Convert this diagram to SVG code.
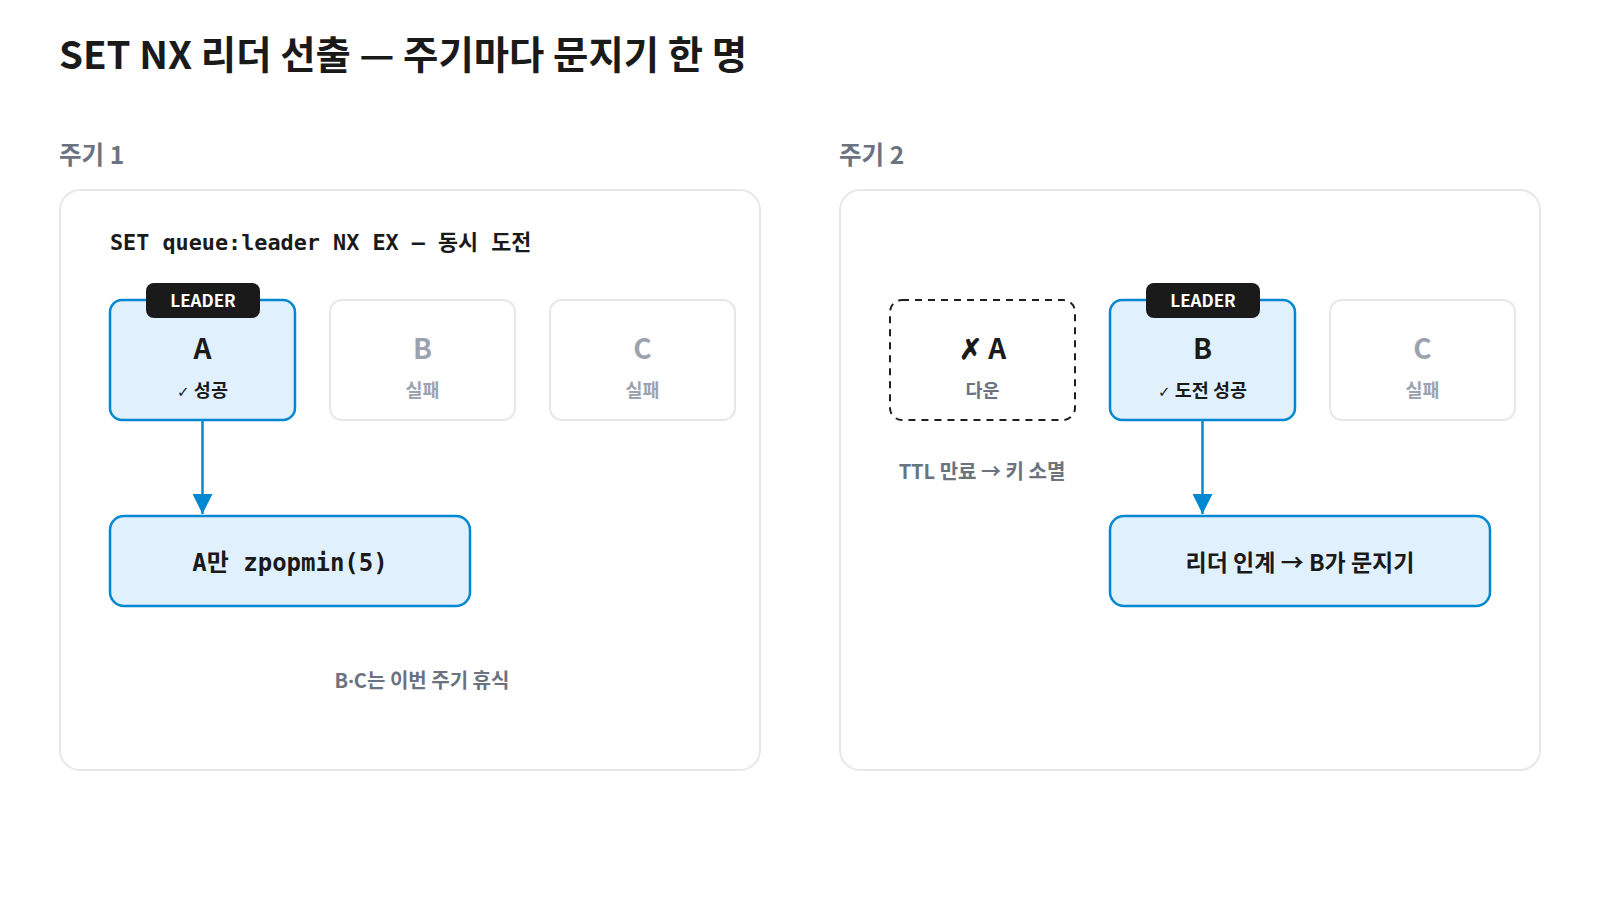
<svg xmlns="http://www.w3.org/2000/svg" width="1600" height="900" viewBox="0 0 1600 900">
<style>
.sans{font-family:"Noto Sans CJK KR","Noto Sans",sans-serif;font-weight:700}
.mono{font-family:"DejaVu Sans Mono","Noto Sans CJK KR",monospace;font-weight:700}
.title{font-size:38.4px;fill:#1a1a1a}
.sec{font-size:24.5px;fill:#6b7280}
.panel{fill:#fff;stroke:#e5e7eb;stroke-width:2}
.lead{fill:#e0f1fd;stroke:#0288d1;stroke-width:2.5}
.idle{fill:#fff;stroke:#e5e7eb;stroke-width:2}
.down{fill:#fff;stroke:#1f1f1f;stroke-width:2;stroke-dasharray:7 6}
.badge{fill:#1a1a1a}
.badgeT{font-size:17px;fill:#fff}
.big{font-size:28px;fill:#1a1a1a}
.bigG{font-size:28px;fill:#9ca3af}
.sub{font-size:18.5px;fill:#1a1a1a}
.subG{font-size:18.5px;fill:#9ca3af}
.subD{font-size:18.5px;fill:#6b7280}
.note{font-size:20px;fill:#6b7280}
.ck{font-family:"DejaVu Sans",sans-serif;font-weight:400;font-size:15px}
.dot{font-family:"Noto Sans",sans-serif}
.conn{stroke:#0288d1;stroke-width:2.5;fill:none}
</style>
<defs>
<marker id="ah" viewBox="0 0 20 20" refX="20" refY="10" markerWidth="20" markerHeight="20" markerUnits="userSpaceOnUse" orient="auto">
<path d="M0,0 L20,10 L0,20 Z" fill="#0288d1"/>
</marker>
</defs>
<rect width="1600" height="900" fill="#fff"/>
<text class="sans title" x="59" y="69">SET NX 리더 선출 — 주기마다 문지기 한 명</text>
<text class="sans sec" x="59" y="164">주기 1</text>
<text class="sans sec" x="839" y="164">주기 2</text>
<g id="panel1"><rect class="panel" x="60" y="190" width="700" height="580" rx="20"/>
<text class="mono" x="110" y="250" font-size="21.8" fill="#1a1a1a">SET queue:leader NX EX — 동시 도전</text>
<text class="sans note" x="422" y="688" text-anchor="middle">B<tspan class="dot">·</tspan>C는 이번 주기 휴식</text></g>
<g id="panel2"><rect class="panel" x="840" y="190" width="700" height="580" rx="20"/>
<text class="sans note" x="982" y="479" text-anchor="middle">TTL 만료 → 키 소멸</text></g>
<g id="connectors">
<line class="conn" x1="202.5" y1="421" x2="202.5" y2="514" marker-end="url(#ah)"/>
<line class="conn" x1="1202.5" y1="421" x2="1202.5" y2="514" marker-end="url(#ah)"/>
</g>
<g id="p1A"><rect class="lead" x="110" y="300" width="185" height="120" rx="12"/>
<rect class="badge" x="146" y="283" width="114" height="35" rx="8"/>
<text class="sans badgeT" x="203" y="307" text-anchor="middle">LEADER</text>
<text class="sans big" x="202.5" y="359" text-anchor="middle">A</text>
<text class="sans sub" x="202.5" y="397" text-anchor="middle"><tspan class="ck">✓</tspan> 성공</text></g>
<g id="p1B"><rect class="idle" x="330" y="300" width="185" height="120" rx="12"/>
<text class="sans bigG" x="422.5" y="359" text-anchor="middle">B</text>
<text class="sans subG" x="422.5" y="397" text-anchor="middle">실패</text></g>
<g id="p1C"><rect class="idle" x="550" y="300" width="185" height="120" rx="12"/>
<text class="sans bigG" x="642.5" y="359" text-anchor="middle">C</text>
<text class="sans subG" x="642.5" y="397" text-anchor="middle">실패</text></g>
<g id="p1Pop"><rect class="lead" x="110" y="516" width="360" height="90" rx="14"/>
<text class="mono" x="290" y="571" font-size="24" fill="#1a1a1a" text-anchor="middle">A만 zpopmin(5)</text></g>
<g id="p2A"><rect class="down" x="890" y="300" width="185" height="120" rx="12"/>
<text class="sans big" x="982.5" y="359" text-anchor="middle">✗ A</text>
<text class="sans subD" x="982.5" y="397" text-anchor="middle">다운</text></g>
<g id="p2B"><rect class="lead" x="1110" y="300" width="185" height="120" rx="12"/>
<rect class="badge" x="1146" y="283" width="114" height="35" rx="8"/>
<text class="sans badgeT" x="1203" y="307" text-anchor="middle">LEADER</text>
<text class="sans big" x="1202.5" y="359" text-anchor="middle">B</text>
<text class="sans sub" x="1202.5" y="397" text-anchor="middle"><tspan class="ck">✓</tspan> 도전 성공</text></g>
<g id="p2C"><rect class="idle" x="1330" y="300" width="185" height="120" rx="12"/>
<text class="sans bigG" x="1422.5" y="359" text-anchor="middle">C</text>
<text class="sans subG" x="1422.5" y="397" text-anchor="middle">실패</text></g>
<g id="p2Hand"><rect class="lead" x="1110" y="516" width="380" height="90" rx="14"/>
<text class="sans" x="1300" y="571" font-size="23" fill="#1a1a1a" text-anchor="middle">리더 인계 → B가 문지기</text></g>
</svg>
